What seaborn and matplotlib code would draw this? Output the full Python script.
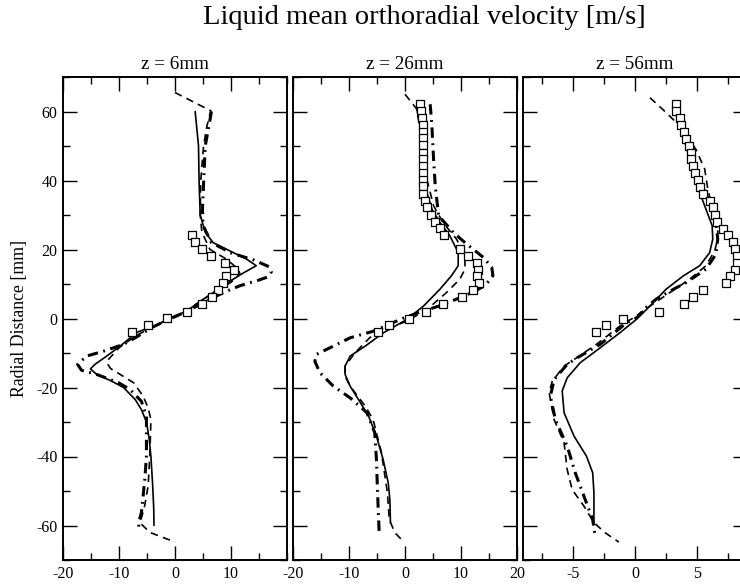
import numpy as np
import pandas as pd
import matplotlib
matplotlib.use("Agg")
import matplotlib.pyplot as plt
import seaborn as sns
from matplotlib.ticker import MultipleLocator, FixedLocator

# ---------------- data ----------------
panel_titles = ["z = 6mm", "z = 26mm", "z = 56mm"]
main_title = "Liquid mean orthoradial velocity [m/s]"
y_label = "Radial Distance [mm]"

# z = 6 mm
p1_solid_v = [3.6, 4.2, 4.3, 4.5, 5.4, 6.8, 9.8, 12.8, 14.5, 12.0, 9.0, 6.8, 4.5, 2.1, -0.8, -3.5, -6.8, -9.8, -12.2, -14.3, -15.1, -14.0, -11.5, -9.2, -7.1, -6.0, -5.1, -4.6, -4.3, -4.0, -3.8, -3.75]
p1_solid_r = [60, 50, 40, 30, 25, 22, 19.6, 17.2, 15.3, 13, 10, 7.5, 5, 2.2, 0, -2, -4, -8, -10.9, -13.3, -14.6, -16.2, -18, -20, -23.5, -26.4, -30, -35, -40, -48, -55, -60]
p1_dash_v = [0, 6.4, 5.7, 5.1, 4.6, 4.5, 4.8, 6.25, 9.2, 11.3, 11.6, 10.0, 8.0, 5.0, 2.0, -1.0, -4.0, -7.0, -10.0, -11.9, -12.2, -11.5, -9.8, -7.4, -5.7, -4.8, -4.3, -4.5, -4.8, -5.5, -6.25, -4.5, 0]
p1_dash_r = [65.5, 60.2, 55.8, 50, 40, 30, 25, 20, 17.2, 14.3, 12.9, 10.5, 8.5, 5.5, 2.2, 0, -2.5, -5, -8.5, -11.9, -12.8, -14.5, -16.2, -18.6, -22.5, -25.9, -29.3, -40, -48.6, -55, -59.2, -62, -64.8]
p1_dd_v = [6.5, 6.25, 5.4, 5.1, 4.9, 5.0, 6.5, 10.0, 14.0, 16.8, 17.2, 16.5, 14.7, 11.6, 8.6, 5.0, 2.0, -1.0, -4.0, -7.0, -9.2, -12.8, -15.8, -17.4, -16.7, -14.0, -10.1, -8.0, -6.0, -5.1, -5.1, -5.4, -6.0, -6.5, -6.4]
p1_dd_r = [60, 57.6, 50, 39, 31.7, 27, 22, 19, 17, 15, 13.5, 12, 11, 9.5, 7.5, 4.5, 2, -0.2, -2.5, -5.5, -7.5, -9.5, -10.9, -13.3, -15, -16.2, -18.6, -20.6, -24, -28.3, -40, -46.7, -56.3, -59.2, -61.7]
p1_exp_v = [3.0, 3.6, 4.9, 6.4, 8.9, 10.5, 9.1, 8.5, 7.7, 6.6, 4.9, 2.2, -1.4, -4.9, -7.6]
p1_exp_r = [24.2, 22.2, 20.1, 18.2, 16, 14.1, 12.2, 10.2, 8.2, 6.2, 4.2, 2.0, 0.2, -1.8, -3.9]

# z = 26 mm
p2_solid_v = [2.1, 2.7, 3.0, 3.3, 3.9, 4.8, 6.25, 8.0, 9.5, 9.5, 8.3, 6.25, 3.3, 0.3, -3.9, -7.1, -9.8, -10.7, -10.7, -9.8, -8.3, -6.5, -5.1, -3.9, -3.0, -2.7, -2.6]
p2_solid_r = [60.9, 55.8, 50, 42.3, 36.5, 31.7, 27.8, 24, 19.1, 15.3, 12.4, 8.5, 3.6, -0.3, -4.2, -8, -10.9, -13.8, -16.2, -19.6, -23.5, -28.3, -34.1, -40.9, -47.6, -52.5, -59.2]
p2_dash_v = [0, 2.1, 3.2, 3.9, 5.1, 6.8, 9.2, 10.7, 10.7, 9.8, 7.4, 3.9, 0.3, -3.3, -6.25, -8.9, -10.7, -10.7, -9.8, -7.1, -5.7, -4.2, -3.15, -2.8, -1.8, -0.2]
p2_dash_r = [65, 60.7, 50, 40.4, 32.7, 27.8, 23, 18.2, 14.3, 11.4, 7.5, 2.6, -0.8, -3.0, -5.5, -9.9, -13.8, -16.7, -19.6, -25.4, -29.3, -38.9, -50.5, -58.3, -62.1, -64.8]
p2_dd_v = [4.5, 4.8, 5.1, 5.4, 6.0, 8.6, 10.7, 14.0, 15.5, 15.7, 14.3, 11.9, 10.4, 6.25, 3.3, 0.0, -2.7, -5.7, -9.8, -12.8, -15.8, -16.1, -15.2, -12.8, -9.8, -6.8, -5.4, -5.1, -4.9, -4.6]
p2_dd_r = [62.1, 55.8, 46.2, 38.5, 29.8, 25, 22, 17.7, 14.8, 12.4, 9.5, 7.5, 6.4, 3.7, 2.2, 0.3, -1.6, -3.7, -5.6, -8, -10.4, -12.4, -15.7, -19.6, -23, -27.3, -33.1, -40.9, -50.5, -62.6]
p2_exp_v = [2.7, 2.9, 3.0, 3.2, 3.3, 3.3, 3.3, 3.2, 3.2, 3.2, 3.2, 3.2, 3.2, 3.3, 3.6, 4.0, 4.6, 5.4, 6.25, 7.0, 9.8, 11.3, 12.8, 13.1, 12.8, 13.3, 12.1, 10.1, 6.8, 3.75, 0.8, -2.8, -4.8]
p2_exp_r = [62.1, 60.2, 58, 56, 54.1, 52.2, 50.2, 48.1, 46.2, 44.3, 42.1, 40.2, 38.3, 36.2, 34.1, 32.2, 30, 28.1, 26.1, 24.2, 20.1, 18, 16, 14.1, 12.2, 10.2, 8.2, 6.2, 4.2, 2.0, 0, -1.8, -3.9]

# z = 56 mm
p3_solid_v = [3.2, 3.6, 4.1, 4.65, 5.2, 5.7, 6.2, 6.25, 6.0, 5.2, 3.9, 2.5, 1.2, 0.13, -1.2, -2.8, -4.4, -5.45, -5.85, -5.7, -4.9, -3.9, -3.4, -3.3, -3.3]
p3_solid_r = [60.7, 55.8, 50, 43.3, 36.5, 31.7, 26.9, 23, 19.1, 15.3, 12.4, 8.5, 3.6, -0.2, -4.1, -8.5, -12.8, -17.2, -21, -27.3, -34.1, -39.9, -44.7, -50.5, -59.7]
p3_dash_v = [1.2, 2.5, 3.6, 4.9, 5.6, 5.85, 6.25, 6.65, 6.65, 6.4, 5.7, 4.4, 2.8, 1.2, -0.1, -0.9, -3.1, -4.9, -5.7, -6.65, -6.9, -6.5, -5.7, -5.45, -5.05, -4.1, -3.3, -2.4, -1.3]
p3_dash_r = [64, 59.7, 55.8, 49, 43.3, 37.5, 31.7, 26.9, 23, 19.6, 15.3, 11.4, 7.5, 3.6, 0.2, -1.3, -7.5, -11.9, -13.8, -18.2, -21.5, -29.3, -36, -43.8, -49.6, -54.4, -59.2, -62.1, -64.8]
p3_dd_v = [3.2, 3.7, 4.4, 4.8, 6.0, 6.5, 6.65, 6.5, 5.7, 4.1, 3.1, 1.7, 0.9, 0.13, -0.7, -2.8, -4.65, -5.45, -6.5, -6.8, -6.4, -5.45, -4.8, -4.0, -3.4, -3.2]
p3_dd_r = [63, 55.8, 48.1, 43.3, 33.6, 27.8, 23, 18.6, 14.3, 10.4, 8.5, 5.6, 3.2, 0.2, -1.3, -7.5, -11.4, -13.3, -17.7, -22.5, -29.3, -37, -44.7, -52.5, -58.3, -63.1]
p3_exp_v = [3.3, 3.3, 3.6, 3.7, 3.9, 4.1, 4.3, 4.5, 4.5, 4.65, 4.8, 5.05, 5.2, 5.45, 6.0, 6.25, 6.4, 6.6, 7.05, 7.45, 7.85, 8.06, 8.2, 8.2, 8.06, 7.6, 7.3, 5.5, 4.7, 3.9, 1.9, -1.0, -2.3, -3.1]
p3_exp_r = [62.1, 60.2, 58, 56, 54.1, 52, 50, 48.1, 46.2, 44.1, 42.1, 40.2, 38.2, 36, 34.1, 32.2, 30, 28.1, 25.9, 24.2, 22.2, 20.1, 18, 16, 14.1, 12.2, 10.2, 8.2, 6.2, 4.2, 2, 0, -1.8, -3.9]

p1_xticks = [-20, -10, 0, 10]
p2_xticks = [-20, -10, 0, 10, 20]
p3_xticks = [-5, 0, 5]
y_ticks = [-60, -40, -20, 0, 20, 40, 60]

panels = [
    dict(solid=(p1_solid_v, p1_solid_r), dash=(p1_dash_v, p1_dash_r), dd=(p1_dd_v, p1_dd_r),
         exp=(p1_exp_v, p1_exp_r), xlim=(-20, 20), xticks=p1_xticks, minor=5),
    dict(solid=(p2_solid_v, p2_solid_r), dash=(p2_dash_v, p2_dash_r), dd=(p2_dd_v, p2_dd_r),
         exp=(p2_exp_v, p2_exp_r), xlim=(-20, 20), xticks=p2_xticks, minor=5),
    dict(solid=(p3_solid_v, p3_solid_r), dash=(p3_dash_v, p3_dash_r), dd=(p3_dd_v, p3_dd_r),
         exp=(p3_exp_v, p3_exp_r), xlim=(-9, 9), xticks=p3_xticks, minor=2.5),
]

# ---------------- style ----------------
sns.set_theme(style="ticks")
plt.rcParams['font.family'] = ['Liberation Serif', 'DejaVu Serif']
plt.rcParams['axes.unicode_minus'] = False
for key in ["text.color", "axes.labelcolor", "xtick.color", "ytick.color", "axes.edgecolor"]:
    plt.rcParams[key] = "black"

W, H = 740, 585
fig = plt.figure(figsize=(W / 100, H / 100), dpi=100)

lefts = [63, 293, 523]
ax_w = 224
top_px, bot_px = 77, 560

for i, p in enumerate(panels):
    ax = fig.add_axes([lefts[i] / W, 1 - bot_px / H, ax_w / W, (bot_px - top_px) / H])
    df_s = pd.DataFrame({"v": p["solid"][0], "r": p["solid"][1]})
    df_d = pd.DataFrame({"v": p["dash"][0], "r": p["dash"][1]})
    df_dd = pd.DataFrame({"v": p["dd"][0], "r": p["dd"][1]})
    df_e = pd.DataFrame({"v": p["exp"][0], "r": p["exp"][1]})
    sns.lineplot(data=df_s, x="v", y="r", sort=False, estimator=None, color="black",
                 linewidth=1.2, ax=ax)
    sns.lineplot(data=df_d, x="v", y="r", sort=False, estimator=None, color="black",
                 linewidth=1.2, linestyle=(0, (4.5, 3.2)), ax=ax)
    sns.lineplot(data=df_dd, x="v", y="r", sort=False, estimator=None, color="black",
                 linewidth=2.2, linestyle=(0, (3.4, 1.8, 0.6, 1.8)), ax=ax)
    sns.scatterplot(data=df_e, x="v", y="r", marker="s", s=38, facecolor="white",
                    edgecolor="black", linewidth=0.9, ax=ax, zorder=3)

    ax.set_xlim(*p["xlim"])
    ax.set_ylim(-70, 70)
    ax.xaxis.set_major_locator(FixedLocator(p["xticks"]))
    ax.xaxis.set_minor_locator(MultipleLocator(p["minor"]))
    ax.yaxis.set_major_locator(FixedLocator(y_ticks))
    ax.yaxis.set_minor_locator(MultipleLocator(10))
    ax.tick_params(which="both", direction="in", top=True, right=True, color="black",
                   labelcolor="black")
    ax.tick_params(which="major", length=10, width=1.0, labelsize=11.5, pad=4)
    ax.tick_params(which="minor", length=5, width=1.0)
    for sp in ax.spines.values():
        sp.set_linewidth(1.4)
        sp.set_color("black")
    ax.set_xlabel("")
    ax.set_ylabel("")
    if i > 0:
        ax.set_yticklabels([])
    ax.set_title(panel_titles[i], fontsize=13.8, pad=6, color="black")

fig.text(20 / W, 1 - 318 / H, y_label, rotation=90, fontsize=12.8, va="center", ha="center",
         color="black")
fig.text(424 / W, 1 - 18 / H, main_title, fontsize=20.5, va="center", ha="center",
         color="black")

fig.savefig("out.png", dpi=100)
